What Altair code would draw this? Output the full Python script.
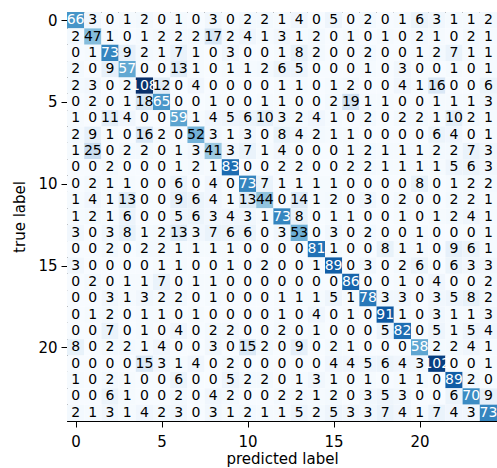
import altair as alt
import pandas as pd

# Confusion matrix values (rows = true label, cols = predicted label)
row0 = [66, 3, 0, 1, 2, 0, 1, 0, 3, 0, 2, 2, 1, 4, 0, 5, 0, 2, 0, 1, 6, 3, 1, 1, 2]
row1 = [2, 47, 1, 0, 1, 2, 2, 2, 17, 2, 4, 1, 3, 1, 2, 0, 1, 0, 1, 0, 2, 1, 0, 2, 1]
row2 = [0, 1, 73, 9, 2, 1, 7, 1, 0, 3, 0, 0, 1, 8, 2, 0, 0, 2, 0, 0, 1, 2, 7, 1, 1]
row3 = [2, 0, 9, 57, 0, 0, 13, 1, 0, 1, 1, 2, 6, 5, 0, 0, 0, 1, 0, 3, 0, 0, 1, 0, 1]
row4 = [2, 3, 0, 2, 108, 12, 0, 4, 0, 0, 0, 0, 1, 1, 0, 1, 2, 0, 0, 4, 1, 16, 0, 0, 6]
row5 = [0, 2, 0, 1, 18, 65, 0, 0, 1, 0, 0, 1, 1, 0, 0, 2, 19, 1, 1, 0, 0, 1, 1, 1, 3]
row6 = [1, 0, 11, 4, 0, 0, 59, 1, 4, 5, 6, 10, 3, 2, 4, 1, 0, 2, 0, 2, 2, 1, 10, 2, 1]
row7 = [2, 9, 1, 0, 16, 2, 0, 52, 3, 1, 3, 0, 8, 4, 2, 1, 1, 0, 0, 0, 0, 6, 4, 0, 1]
row8 = [1, 25, 0, 2, 2, 0, 1, 3, 41, 3, 7, 1, 4, 0, 0, 0, 1, 2, 1, 1, 1, 2, 2, 7, 3]
row9 = [0, 0, 2, 0, 0, 0, 1, 2, 1, 83, 0, 0, 2, 2, 0, 0, 2, 2, 1, 1, 1, 1, 5, 6, 3]
row10 = [0, 2, 1, 1, 0, 0, 6, 0, 4, 0, 73, 7, 1, 1, 1, 1, 0, 0, 0, 0, 8, 0, 1, 2, 2]
row11 = [1, 4, 1, 13, 0, 0, 9, 6, 4, 1, 13, 44, 0, 14, 1, 2, 0, 3, 0, 2, 0, 0, 2, 2, 1]
row12 = [1, 2, 1, 6, 0, 0, 5, 6, 3, 4, 3, 1, 73, 8, 0, 1, 1, 0, 0, 1, 0, 1, 2, 4, 1]
row13 = [3, 0, 3, 8, 1, 2, 13, 3, 7, 6, 6, 0, 3, 53, 0, 3, 0, 2, 0, 0, 1, 0, 0, 0, 1]
row14 = [0, 0, 2, 0, 2, 2, 1, 1, 1, 1, 0, 0, 0, 0, 81, 1, 0, 0, 8, 1, 1, 0, 9, 6, 1]
row15 = [3, 0, 0, 0, 0, 1, 1, 0, 0, 1, 0, 2, 0, 0, 1, 89, 0, 3, 0, 2, 6, 0, 6, 3, 3]
row16 = [0, 2, 0, 1, 1, 7, 0, 1, 1, 0, 0, 0, 0, 0, 0, 0, 86, 0, 0, 1, 0, 4, 0, 0, 2]
row17 = [0, 0, 3, 1, 3, 2, 2, 0, 1, 0, 0, 0, 1, 1, 1, 5, 1, 78, 3, 3, 0, 3, 5, 8, 2]
row18 = [0, 1, 2, 0, 1, 1, 0, 1, 0, 0, 0, 0, 1, 0, 4, 0, 1, 0, 91, 1, 0, 3, 1, 1, 3]
row19 = [0, 0, 7, 0, 1, 0, 4, 0, 2, 2, 0, 0, 2, 0, 1, 0, 0, 0, 5, 82, 0, 5, 1, 5, 4]
row20 = [8, 0, 2, 2, 1, 4, 0, 0, 3, 0, 15, 2, 0, 9, 0, 2, 1, 0, 0, 0, 58, 2, 2, 4, 1]
row21 = [0, 0, 0, 0, 15, 3, 1, 4, 0, 2, 0, 0, 0, 0, 0, 4, 4, 5, 6, 4, 3, 102, 0, 0, 1]
row22 = [1, 0, 2, 1, 0, 0, 6, 0, 0, 5, 2, 2, 0, 1, 3, 1, 0, 1, 0, 1, 1, 0, 89, 2, 0]
row23 = [0, 0, 6, 1, 0, 0, 2, 0, 4, 2, 0, 0, 2, 2, 1, 2, 0, 3, 5, 3, 0, 0, 6, 70, 9]
row24 = [2, 1, 3, 1, 4, 2, 3, 0, 3, 1, 2, 1, 1, 5, 2, 5, 3, 3, 7, 4, 1, 7, 4, 3, 73]

matrix = [row0, row1, row2, row3, row4, row5, row6, row7, row8, row9, row10,
          row11, row12, row13, row14, row15, row16, row17, row18, row19, row20,
          row21, row22, row23, row24]

tick_values = [0, 5, 10, 15, 20]
blues = ["#f7fbff", "#deebf7", "#c6dbef", "#9ecae1", "#6baed6",
         "#4292c6", "#2171b5", "#08519c", "#08306b"]

records = []
for r, row in enumerate(matrix):
    for c, v in enumerate(row):
        records.append({"true": r, "pred": c, "count": v})
df = pd.DataFrame(records)

vmax = max(max(r) for r in matrix)
vmin = min(min(r) for r in matrix)
thresh = (vmax + vmin) / 2
n = len(matrix)
stops = [vmin + (vmax - vmin) * i / (len(blues) - 1) for i in range(len(blues))]

xscale = alt.Scale(domain=[-0.5, n - 0.5], nice=False, zero=False)
yscale = alt.Scale(domain=[-0.5, n - 0.5], nice=False, zero=False, reverse=True)

base = alt.Chart(df).transform_calculate(
    x0="datum.pred - 0.5", x1="datum.pred + 0.5",
    y0="datum.true - 0.5", y1="datum.true + 0.5",
)

rects = base.mark_rect(stroke=None).encode(
    x=alt.X("x0:Q", scale=xscale,
            axis=alt.Axis(values=tick_values, title="predicted label", format="d")),
    x2="x1:Q",
    y=alt.Y("y0:Q", scale=yscale,
            axis=alt.Axis(values=tick_values, title="true label", format="d")),
    y2="y1:Q",
    color=alt.Color("count:Q",
                    scale=alt.Scale(domain=stops, range=blues, interpolate="rgb"),
                    legend=None),
)

texts = base.mark_text(fontSize=14, font="DejaVu Sans", baseline="middle",
                       align="center").encode(
    x=alt.X("pred:Q", scale=xscale),
    y=alt.Y("true:Q", scale=yscale),
    text=alt.Text("count:Q"),
    color=alt.condition(f"datum.count > {thresh}", alt.value("white"),
                        alt.value("black")),
)

chart = (rects + texts).properties(
    width=430, height=409,
    autosize="none",
    padding={"left": 67, "top": 12, "right": 0, "bottom": 47},
).configure_view(
    stroke="black", strokeWidth=1
).configure_axis(
    grid=False,
    domainColor="black",
    tickColor="black",
    tickSize=6,
    labelFont="DejaVu Sans",
    titleFont="DejaVu Sans",
    labelFontSize=15,
    titleFontSize=15,
    titleFontWeight="normal",
    labelColor="black",
    titleColor="black",
).configure_axisX(
    labelPadding=7,
    titlePadding=2,
).configure_axisY(
    labelPadding=4,
    titlePadding=10,
)

chart.save("out.html", embed_options={"renderer": "svg", "actions": False})
